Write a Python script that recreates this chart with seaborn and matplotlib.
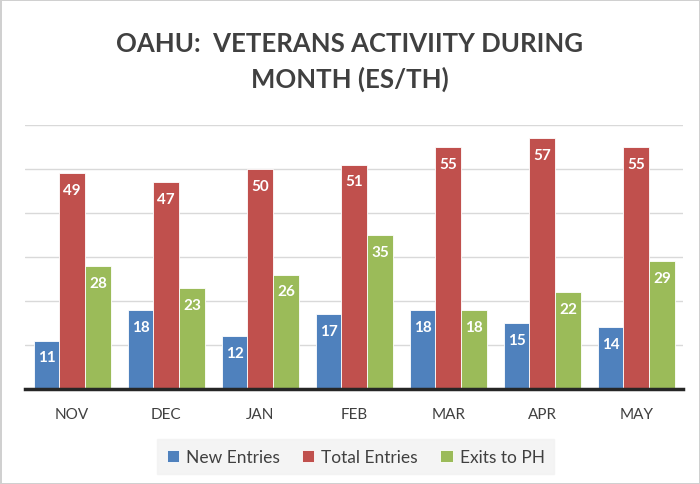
import pandas as pd
import numpy as np
import matplotlib.pyplot as plt
import seaborn as sns

# --- Data ---
months = ["NOV", "DEC", "JAN", "FEB", "MAR", "APR", "MAY"]
new_entries = [11, 18, 12, 17, 18, 15, 14]
total_entries = [49, 47, 50, 51, 55, 57, 55]
exits_to_ph = [28, 23, 26, 35, 18, 22, 29]

series = ["New Entries", "Total Entries", "Exits to PH"]
colors = ["#4F81BD", "#C0504D", "#9BBB59"]

df = pd.DataFrame({
    "month": months * 3,
    "series": [series[0]] * 7 + [series[1]] * 7 + [series[2]] * 7,
    "value": new_entries + total_entries + exits_to_ph,
})

sns.set_theme(style="white")
plt.rcParams["font.family"] = ["Lato", "DejaVu Sans"]

fig = plt.figure(figsize=(7, 4.85), dpi=100)
fig.patch.set_facecolor("white")
fig.patch.set_edgecolor("#D0D0D0")
fig.patch.set_linewidth(2)

ax = fig.add_axes([0.036, 0.196, 0.94, 0.544])
sns.barplot(data=df, x="month", y="value", hue="series", hue_order=series,
            palette=colors, width=0.82, edgecolor="white", linewidth=0.6,
            saturation=1, ax=ax, legend=True)

# value labels inside the top of each bar
for cont in ax.containers:
    for bar in cont:
        h = bar.get_height()
        ax.annotate(f"{h:.0f}", (bar.get_x() + bar.get_width() / 2, h),
                    xytext=(0, -7), textcoords="offset points",
                    ha="center", va="top", color="white",
                    fontsize=11, fontweight="bold")

ax.set_ylim(0, 60)
ax.set_xlim(-0.5, 6.5)
ax.set_yticks(np.arange(0, 61, 10))
ax.set_yticklabels([])
ax.tick_params(axis="y", length=0)
ax.tick_params(axis="x", length=0, pad=13, labelsize=11, colors="#404040")
ax.grid(axis="y", color="#D9D9D9", linewidth=1)
ax.set_axisbelow(True)
for s in ["top", "right", "left"]:
    ax.spines[s].set_visible(False)
ax.spines["bottom"].set_color("#262626")
ax.spines["bottom"].set_linewidth(2.5)
ax.set_xlabel("")
ax.set_ylabel("")

handles, labels = ax.get_legend_handles_labels()
ax.legend_.remove()
leg = fig.legend(handles, labels, loc="center", bbox_to_anchor=(0.508, 0.056),
                 ncol=3, frameon=True, fontsize=12.5, handlelength=0.7,
                 handleheight=0.7, handletextpad=0.4, columnspacing=1.3,
                 borderpad=0.55)
leg.get_frame().set_facecolor("#F2F2F2")
leg.get_frame().set_edgecolor("#F2F2F2")
leg.get_frame().set_boxstyle("square", pad=0.0)
for t in leg.get_texts():
    t.set_color("#404040")

fig.text(0.5, 0.872, "OAHU:  VETERANS ACTIVIITY DURING\nMONTH (ES/TH)",
         ha="center", va="center", fontsize=18.5, fontweight="bold",
         color="#404040", linespacing=1.5)

fig.savefig("out.png", dpi=100, facecolor=fig.get_facecolor(),
            edgecolor=fig.get_edgecolor())
